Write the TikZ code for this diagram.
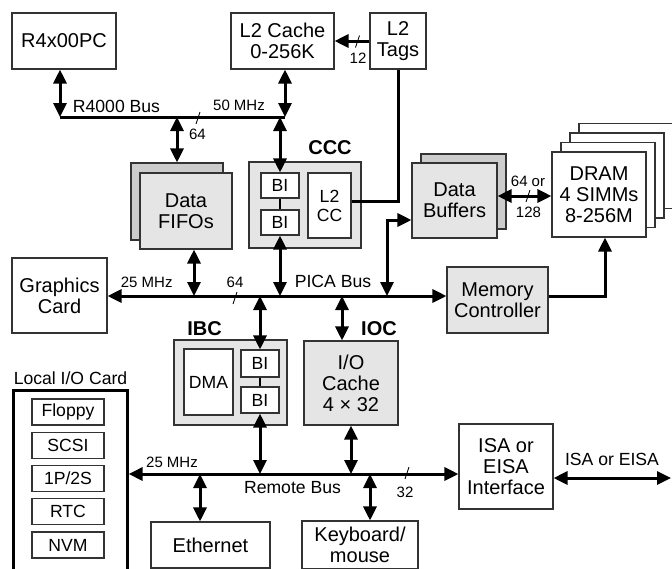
\documentclass[tikz,border=0pt]{standalone}
\usepackage{fontspec}
\setmainfont{Liberation Sans}
\usetikzlibrary{calc}
\usetikzlibrary{arrows.meta}

\tikzset{
  blk/.style={draw=black!80, line width=1.1pt, fill=white, inner sep=0pt, align=center,
    font=\fontsize{20}{21}\selectfont},
  chip/.style={blk, fill=black!10},
  chipback/.style={blk, fill=black!20},
  iounit/.style={blk, font=\fontsize{17.6}{19}\selectfont},
  tag/.style={inner sep=0pt, anchor=base, font=\fontsize{17.6}{19}\selectfont},
  bw/.style={inner sep=0pt, anchor=base, font=\fontsize{15}{16}\selectfont},
  chipname/.style={inner sep=0pt, anchor=base, font=\fontsize{20}{22}\selectfont\bfseries},
  bus/.style={line width=3pt},
  link/.style={bus, <->},
  feed/.style={bus, ->},
  slash/.style={line width=0.9pt},
  >={Triangle[length=14pt,width=13pt]},
}

\begin{document}
\begin{tikzpicture}[x=1pt,y=-1pt]
\useasboundingbox (0,0) rectangle (672,568);

\node[blk, minimum width=104pt, minimum height=56pt] (cpu) at (64,41) {R4x00PC};
\node[blk, minimum width=103pt, minimum height=56pt] (l2c) at (282.5,41) {L2 Cache\\0-256K};
\node[blk, minimum width=56pt, minimum height=56pt] (tags) at (398,41) {L2\\Tags};

\node[chipback, minimum width=92pt, minimum height=77pt] (fifoback) at (177,201.5) {};
\node[chip, minimum width=92pt, minimum height=76pt] (fifo) at (186,211) {Data\\FIFOs};

\node[chip, minimum width=112pt, minimum height=86pt] (ccc) at (305,205) {};
\node[chipname] (ccclabel) at (330,154) {CCC};
\node[iounit, minimum width=38pt, minimum height=25pt] (cbi1) at (280,185.5) {BI};
\node[iounit, minimum width=38pt, minimum height=25pt] (cbi2) at (280,222.5) {BI};
\node[iounit, minimum width=43pt, minimum height=65pt] (l2cc) at (329.5,205.5) {L2\\CC};

\node[chipback, minimum width=85pt, minimum height=75pt] (bufback) at (463.5,191.5) {};
\node[chip, minimum width=85pt, minimum height=75pt] (buf) at (454.5,200.5) {Data\\Buffers};

\foreach \k in {3,2,1}
  \node[blk, minimum width=94pt, minimum height=85pt] (dram\k) at ({599+9*\k},{194.5-9.5*\k}) {};
\node[blk, minimum width=94pt, minimum height=85pt] (dram) at (599,194.5) {DRAM\\4 SIMMs\\8-256M};

\node[blk, minimum width=95pt, minimum height=75pt] (gfx) at (59.5,295.5) {Graphics\\Card};
\node[chip, minimum width=101pt, minimum height=66pt] (mc) at (497.5,300) {Memory\\Controller};

\node[chip, minimum width=113pt, minimum height=85pt] (ibc) at (230.5,382.5) {};
\node[chipname] (ibclabel) at (204.5,335) {IBC};
\node[iounit, minimum width=49pt, minimum height=66pt] (dma) at (208.5,382) {DMA};
\node[iounit, minimum width=38pt, minimum height=27pt] (ibi1) at (260,363.5) {BI};
\node[iounit, minimum width=38pt, minimum height=26pt] (ibi2) at (260,400) {BI};

\node[chip, minimum width=94pt, minimum height=84pt] (ioc) at (351,383) {I/O\\Cache\\4 × 32};
\node[chipname] (ioclabel) at (379,335) {IOC};

\node[blk, minimum width=94pt, minimum height=85pt] (isa) at (506,466.5) {ISA or\\EISA\\Interface};

\node[tag] (liolabel) at (70.5,384) {Local I/O Card};
\node[draw=black, line width=2.6pt, fill=white, minimum width=114pt, minimum height=195pt,
  anchor=north west, inner sep=0pt] (lio) at (12,389) {};
\foreach \name [count=\i from 0] in {Floppy,SCSI,1P/2S,RTC,NVM}
  \node[iounit, minimum width=72pt, minimum height=26pt] (io\i) at (68,{412+33.25*\i}) {\name};

\node[blk, minimum width=119pt, minimum height=46pt] (eth) at (210.5,545) {Ethernet};
\node[blk, minimum width=116pt, minimum height=48pt] (kbd) at (360,545) {Keyboard/\\mouse};

\coordinate (r4k) at (60,117);
\coordinate (r4kend) at (285,117);
\coordinate (pica) at (0,296);
\coordinate (pfifo) at (194,296);
\coordinate (pioc) at (342,296);
\coordinate (pbuf) at (387,296);
\coordinate (bufin) at ($(buf.west)+(0,19.5)$);
\coordinate (dramin) at ($(dram.south)+(6,0)$);
\coordinate (bd) at (0,196);
\coordinate (rbus) at (0,474);
\coordinate (reth) at (200,474);
\coordinate (rkbd) at (370,474);
\coordinate (isaout) at (671,478);

\draw[bus] (r4k) -- (r4kend);
\draw[link] (cpu.south -| r4k) -- (r4k);
\draw[link] (l2c.south -| r4kend) -- (r4kend);
\draw[link] (fifoback.north |- r4k) -- (fifoback.north);
\draw[link] (cbi1.north |- r4k) -- (cbi1.north);
\draw[feed] (tags.west) -- (l2c.east);
\draw[bus] (tags.south) |- ($(l2cc.east)+(0,-4.5)$);

\draw[line width=1.5pt] (cbi1) -- (cbi2);
\draw[line width=1.5pt] (ibi1) -- (ibi2);

\draw[link] (gfx.east |- pica) -- (mc.west |- pica);
\draw[link] (fifo.south -| pfifo) -- (pfifo);
\draw[link] (cbi2.south) -- (cbi2.south |- pica);
\draw[link] (ibi1.north |- pica) -- (ibi1.north);
\draw[link] (ioc.north -| pioc) -- (pioc);
\draw[link] (pbuf) |- (bufin);
\draw[feed] (mc.east |- pica) -| (dramin);
\draw[link] (buf.east |- bd) -- (dram.west |- bd);

\draw[link] (lio.east |- rbus) -- (isa.west |- rbus);
\draw[link] (ibi2.south) -- (ibi2.south |- rbus);
\draw[link] (ioc.south) -- (ioc.south |- rbus);
\draw[link] (reth) -- (eth.north -| reth);
\draw[link] (rkbd) -- (kbd.north -| rkbd);
\draw[link] (isa.east |- isaout) -- (isaout);

\foreach \p in {(198,118),(235,298),(407,473),(357.5,41.5),(528,196)}
  \draw[slash] \p ++(-2,6) -- ++(4,-12);

\node[tag] (r4klabel) at (116.5,112) {R4000 Bus};
\node[bw] (r4kclk) at (239,110) {50 MHz};
\node[bw] (r4kbits) at (197.5,139) {64};
\node[bw] (tagbits) at (358,63) {12};
\node[bw] (drambits) at (528,186.5) {64 or};
\node[bw] (drambits2) at (528.5,217) {128};
\node[bw] (picaclk) at (146.7,287) {25 MHz};
\node[bw] (picabits) at (235,287) {64};
\node[tag] (picalabel) at (333,287) {PICA Bus};
\node[bw] (remclk) at (172,467) {25 MHz};
\node[tag] (remlabel) at (292.5,493) {Remote Bus};
\node[bw] (rembits) at (405,497) {32};
\node[tag] (isalabel) at (612,465) {ISA or EISA};
\end{tikzpicture}
\end{document}
